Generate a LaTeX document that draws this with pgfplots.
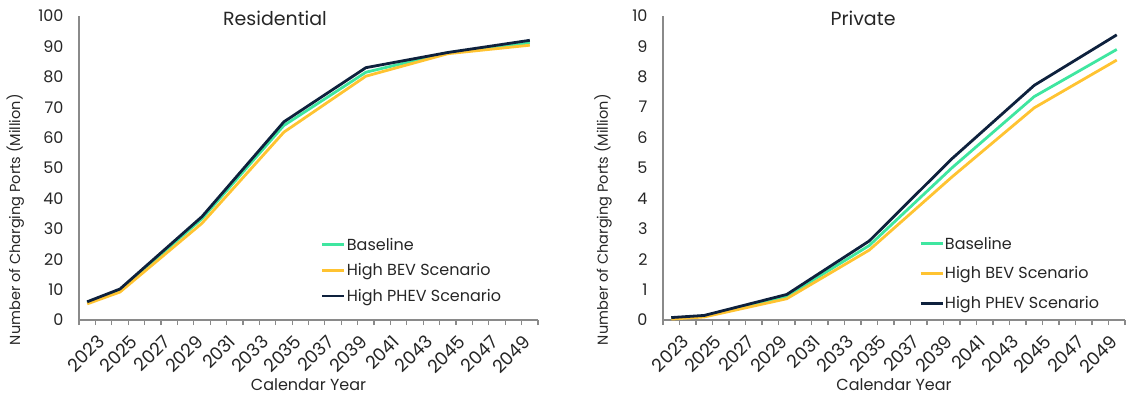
\documentclass[border=0pt]{standalone}
\usepackage{fontspec}
\setmainfont{Poppins}
\usepackage{pgfplots}
\pgfplotsset{compat=1.18}

\definecolor{cBase}{HTML}{3FE6A0}
\definecolor{cBEV}{HTML}{FFC331}
\definecolor{cPHEV}{HTML}{0E213D}
\definecolor{txt}{HTML}{262626}
\definecolor{axg}{HTML}{8A8A8A}

\pgfplotsset{
  myaxis/.style={
    scale only axis, width=459pt, height=304pt,
    xmin=-0.5, xmax=27.5, ymin=0,
    axis x line*=bottom, axis y line*=left,
    x axis line style={color=axg, line width=1.2pt, -},
    y axis line style={color=axg, line width=1.2pt, -},
    tick align=outside,
    major tick length=0pt, minor tick length=5pt,
    xtick={0,2,...,26},
    xticklabels={2023,2025,2027,2029,2031,2033,2035,2037,2039,2041,2043,2045,2047,2049},
    minor xtick={-0.5,0.5,...,27.5},
    minor tick style={color=axg, line width=1.2pt},
    xticklabel style={rotate=45, anchor=north east, inner sep=0pt, xshift=-3pt, yshift=-16pt,
      font=\fontsize{18}{20}\selectfont, text=txt},
    yticklabel style={font=\fontsize{16}{18}\selectfont, text=txt, xshift=-12pt},
    /pgf/number format/assume math mode=true,
    xlabel={Calendar Year},
    ylabel={Number of Charging Ports (Million)},
    xlabel style={at={(0.5,-0.214)}, anchor=center, font=\fontsize{16}{18}\selectfont, text=txt},
    ylabel style={anchor=center, rotate=0, font=\fontsize{14.5}{17}\selectfont, text=txt},
    title style={anchor=base, yshift=-15.5pt, font=\fontsize{19}{22}\selectfont, text=txt},
    legend style={anchor=north west, draw=none, fill=none, inner sep=0pt,
      font=\fontsize{16}{19}\selectfont, text=txt,
      nodes={inner sep=1pt}},
    legend cell align=left,
    legend image code/.code={\draw[##1, line width=2.8pt] (0pt,0pt) -- (22pt,0pt);},
    every axis plot/.append style={line width=2.8pt, line join=round, no markers},
  }
}

\begin{document}
\begin{tikzpicture}[x=1pt,y=1pt]
\path[use as bounding box] (0,0) rectangle (1126,399);

\begin{axis}[myaxis, at={(79pt,79pt)}, anchor=south west,
  ymax=100, ytick={0,10,...,100},
  title={Residential}, title style={at={(0.427,1)}},
  ylabel style={at={(-0.139,0.33)}},
  legend style={at={(0.527,0.274)}, row sep=10pt}]
\addplot[cBase] coordinates {(0,5.8) (2,9.8) (7,33.3) (12,64.0) (17,81.5) (22,87.9) (27,91.2)};
\addplot[cBEV] coordinates {(0,5.3) (2,9.2) (7,31.8) (12,61.8) (17,80.2) (22,87.6) (27,90.4)};
\addplot[cPHEV] coordinates {(0,6.0) (2,10.2) (7,34.0) (12,65.2) (17,83.0) (22,88.0) (27,92.0)};
\legend{Baseline,High BEV Scenario,High PHEV Scenario}
\end{axis}

\begin{axis}[myaxis, at={(663pt,79pt)}, anchor=south west, width=462pt,
  ymax=10, ytick={0,1,...,10},
  title={Private}, title style={at={(0.433,1)}},
  ylabel style={at={(-0.13,0.33)}},
  legend style={at={(0.554,0.277)}, row sep=14pt}]
\addplot[cBase] coordinates {(0,0.06) (2,0.13) (7,0.78) (12,2.45) (17,5.0) (22,7.35) (27,8.9)};
\addplot[cBEV] coordinates {(0,0.03) (2,0.10) (7,0.70) (12,2.30) (17,4.7) (22,6.98) (27,8.55)};
\addplot[cPHEV] coordinates {(0,0.08) (2,0.15) (7,0.84) (12,2.60) (17,5.3) (22,7.72) (27,9.38)};
\legend{Baseline,High BEV Scenario,High PHEV Scenario}
\end{axis}
\end{tikzpicture}
\end{document}
